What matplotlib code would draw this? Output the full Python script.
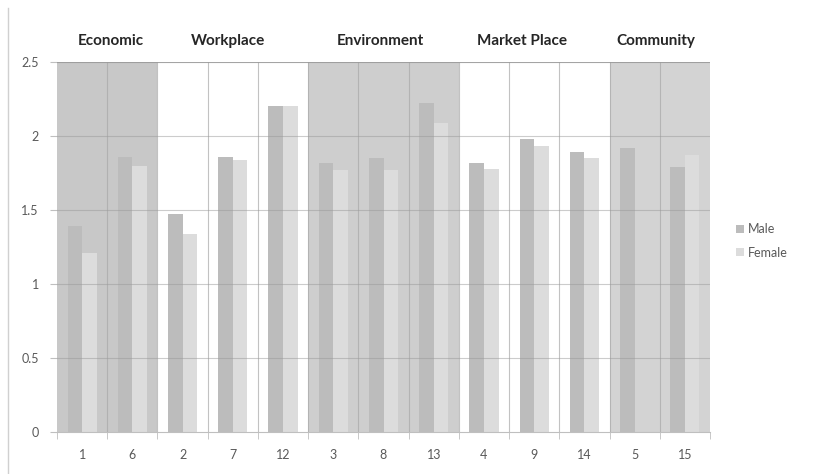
import matplotlib.pyplot as plt
from matplotlib.patches import Patch
from matplotlib.lines import Line2D
import numpy as np

# Question numbers, grouped by area (no female bar shown for question 5)
categories = ["1", "6", "2", "7", "12", "3", "8", "13", "4", "9", "14", "5", "15"]
male = [1.39, 1.86, 1.47, 1.86, 2.20, 1.82, 1.85, 2.22, 1.82, 1.98, 1.89, 1.92, 1.79]
female = [1.21, 1.80, 1.34, 1.84, 2.20, 1.77, 1.77, 2.09, 1.78, 1.93, 1.85, 0.0, 1.87]

groups = ["Economic", "Workplace", "Environment", "Market Place", "Community"]
group_sizes = [2, 3, 3, 3, 2]
group_shades = ["#c8c8c8", "#ffffff", "#cecece", "#ffffff", "#d3d3d3"]
group_label_shift = [0.08, -0.1, -0.07, -0.25, -0.08]

MALE_COLOR = "#bcbcbc"
FEMALE_COLOR = "#dcdcdc"

plt.rcParams['font.family'] = ['Lato', 'DejaVu Sans']

fig = plt.figure(figsize=(8.16, 4.74), dpi=100)
ax = fig.add_axes([57 / 816, 1 - 432 / 474, 653 / 816, 370 / 474])

x = np.arange(len(categories))
n = len(categories)

# ------------------ background bands per group
start = 0
for name, size, shade, shift in zip(groups, group_sizes, group_shades, group_label_shift):
    ax.axvspan(start - 0.5, start + size - 0.5, color=shade, zorder=0, lw=0)
    ax.text(start + size / 2 - 0.5 + shift, 2.5 + 0.145, name, ha="center", va="center",
            fontsize=11, fontweight="bold", color="#262626", clip_on=False)
    start += size

# ------------------ grid
for y in np.arange(0.5, 2.51, 0.5):
    ax.axhline(y, color="#9a9a9a", lw=0.8, alpha=0.5 if y < 2.5 else 0.9, zorder=3)
for b in np.arange(0.5, n - 1, 1.0):
    ax.axvline(b, color="#a8a8a8", lw=0.8, alpha=0.7, zorder=1)

# ------------------ bars
w = 0.29
ax.bar(x - w / 2, male, width=w, color=MALE_COLOR, zorder=2, label="Male")
ax.bar(x + w / 2, female, width=w, color=FEMALE_COLOR, zorder=2, label="Female")

ax.set_xlim(-0.5, n - 0.5)
ax.set_ylim(0, 2.5)
ax.set_yticks([0, 0.5, 1, 1.5, 2, 2.5])
ax.set_yticklabels(["0", "0.5", "1", "1.5", "2", "2.5"])
ax.set_xticks(x)
ax.set_xticklabels(categories)
ax.set_xticks(np.arange(-0.5, n, 1.0), minor=True)

ax.tick_params(axis="x", which="major", length=0, pad=12, labelsize=9, labelcolor="#595959")
ax.tick_params(axis="x", which="minor", length=5, color="#bfbfbf", direction="out")
ax.tick_params(axis="y", length=5, color="#bfbfbf", pad=8, labelsize=9, labelcolor="#595959")
for side in ["top", "right", "left"]:
    ax.spines[side].set_visible(False)
ax.spines["bottom"].set_color("#bfbfbf")

# ------------------ legend
handles = [Patch(facecolor=MALE_COLOR, label="Male"), Patch(facecolor=FEMALE_COLOR, label="Female")]
fig.legend(handles=handles, loc="center left", bbox_to_anchor=(725 / 816, 1 - 241 / 474),
           frameon=False, fontsize=9, handlelength=0.6, handleheight=0.6,
           handletextpad=0.3, labelspacing=0.9, labelcolor="#595959")

# chart frame edge on the left
fig.add_artist(Line2D([8 / 816, 8 / 816], [0, 1 - 8 / 474], transform=fig.transFigure,
                      color="#d0d0d0", lw=1))

fig.savefig("out.png", dpi=100)
